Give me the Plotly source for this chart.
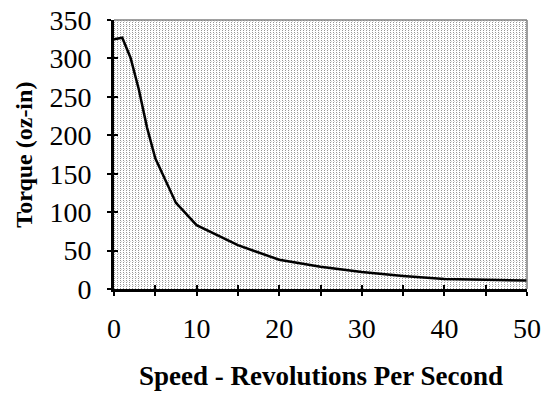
import base64
import struct
import zlib

import numpy as np
import plotly.graph_objects as go

# Torque / speed curve of the stepper motor
speed_rps = [0, 1, 2, 3, 4, 5, 7.5, 10, 15, 20, 25, 30, 35, 40, 45, 50]
torque_ozin = [325, 327, 301, 260, 210, 170, 112, 83, 57, 38, 29, 22, 17, 13, 12, 11]

x_tickvals = [0, 5, 10, 15, 20, 25, 30, 35, 40, 45, 50]
x_ticktext = ["0", "", "10", "", "20", "", "30", "", "40", "", "50"]
y_tickvals = [0, 50, 100, 150, 200, 250, 300, 350]

x_title = "Speed - Revolutions Per Second"
y_title = "Torque (oz-in)"

W, H = 552, 393
M_L, M_R, M_T, M_B = 114, 25, 20, 104
PLOT_W, PLOT_H = W - M_L - M_R, H - M_T - M_B
FONT = "Liberation Serif"


def stipple_png(w, h):
    """Dotted fill for the plotting area, encoded as a grayscale PNG."""
    img = np.full((h, w), 255, dtype=np.uint8)
    img[0::2, 0::3] = 150
    img[1::4, 1::3] = 215
    raw = b"".join(b"\x00" + img[r].tobytes() for r in range(h))

    def chunk(tag, data):
        c = struct.pack(">I", len(data)) + tag + data
        return c + struct.pack(">I", zlib.crc32(tag + data) & 0xFFFFFFFF)

    png = b"\x89PNG\r\n\x1a\n"
    png += chunk(b"IHDR", struct.pack(">IIBBBBB", w, h, 8, 0, 0, 0, 0))
    png += chunk(b"IDAT", zlib.compress(raw, 9))
    png += chunk(b"IEND", b"")
    return "data:image/png;base64," + base64.b64encode(png).decode()


fig = go.Figure()
fig.add_trace(go.Scatter(
    x=speed_rps, y=torque_ozin, mode="lines",
    line=dict(color="black", width=2.5),
    showlegend=False, hoverinfo="skip",
))
# transparent copy so the overlay axes (inner tick halves) get drawn
fig.add_trace(go.Scatter(
    x=speed_rps, y=torque_ozin, mode="lines", xaxis="x2", yaxis="y2",
    line=dict(color="rgba(0,0,0,0)", width=0),
    showlegend=False, hoverinfo="skip",
))

fig.add_layout_image(dict(
    source=stipple_png(PLOT_W, PLOT_H),
    xref="paper", yref="paper", x=0, y=1, sizex=1, sizey=1,
    sizing="stretch", layer="below", xanchor="left", yanchor="top",
))

# thin grey frame on the top and right of the plotting area
fig.add_shape(type="line", xref="paper", yref="paper", x0=0, x1=1, y0=1, y1=1,
              line=dict(color="#808080", width=1.5))
fig.add_shape(type="line", xref="paper", yref="paper", x0=1, x1=1, y0=0, y1=1,
              line=dict(color="#808080", width=1.5))

# axis titles
fig.add_annotation(text="<b>%s</b>" % x_title, xref="paper", yref="paper",
                   x=0.5, y=-0.323, xanchor="center", yanchor="middle",
                   showarrow=False, font=dict(size=27, family=FONT, color="black"))
fig.add_annotation(text="<b>%s</b>" % y_title, xref="paper", yref="paper",
                   x=-0.22, y=0.50, xanchor="center", yanchor="middle",
                   textangle=-90, showarrow=False,
                   font=dict(size=24, family=FONT, color="black"))

axis_common = dict(showgrid=False, zeroline=False, ticklen=4, tickwidth=2,
                   tickcolor="black", automargin=False)

fig.update_layout(
    width=W, height=H,
    margin=dict(l=M_L, r=M_R, t=M_T, b=M_B, autoexpand=False),
    paper_bgcolor="white", plot_bgcolor="rgba(0,0,0,0)",
    font=dict(family=FONT, color="black"),
    xaxis=dict(
        range=[0, 50], tickvals=x_tickvals, ticktext=x_ticktext,
        ticks="outside", showline=True, linecolor="black", linewidth=3,
        tickfont=dict(size=28, family=FONT), ticklabelstandoff=8,
        **axis_common,
    ),
    yaxis=dict(
        range=[0, 350], tickvals=y_tickvals,
        ticks="outside", showline=True, linecolor="black", linewidth=3,
        tickfont=dict(size=28, family=FONT), ticklabelstandoff=10,
        **axis_common,
    ),
    # overlay axes give the tick marks their inner half
    xaxis2=dict(range=[0, 50], tickvals=x_tickvals, ticks="inside",
                showticklabels=False, overlaying="x", anchor="y", side="bottom",
                showline=False, **axis_common),
    yaxis2=dict(range=[0, 350], tickvals=y_tickvals, ticks="inside",
                showticklabels=False, overlaying="y", anchor="x", side="left",
                showline=False, **axis_common),
)

fig.write_html("out.html")
